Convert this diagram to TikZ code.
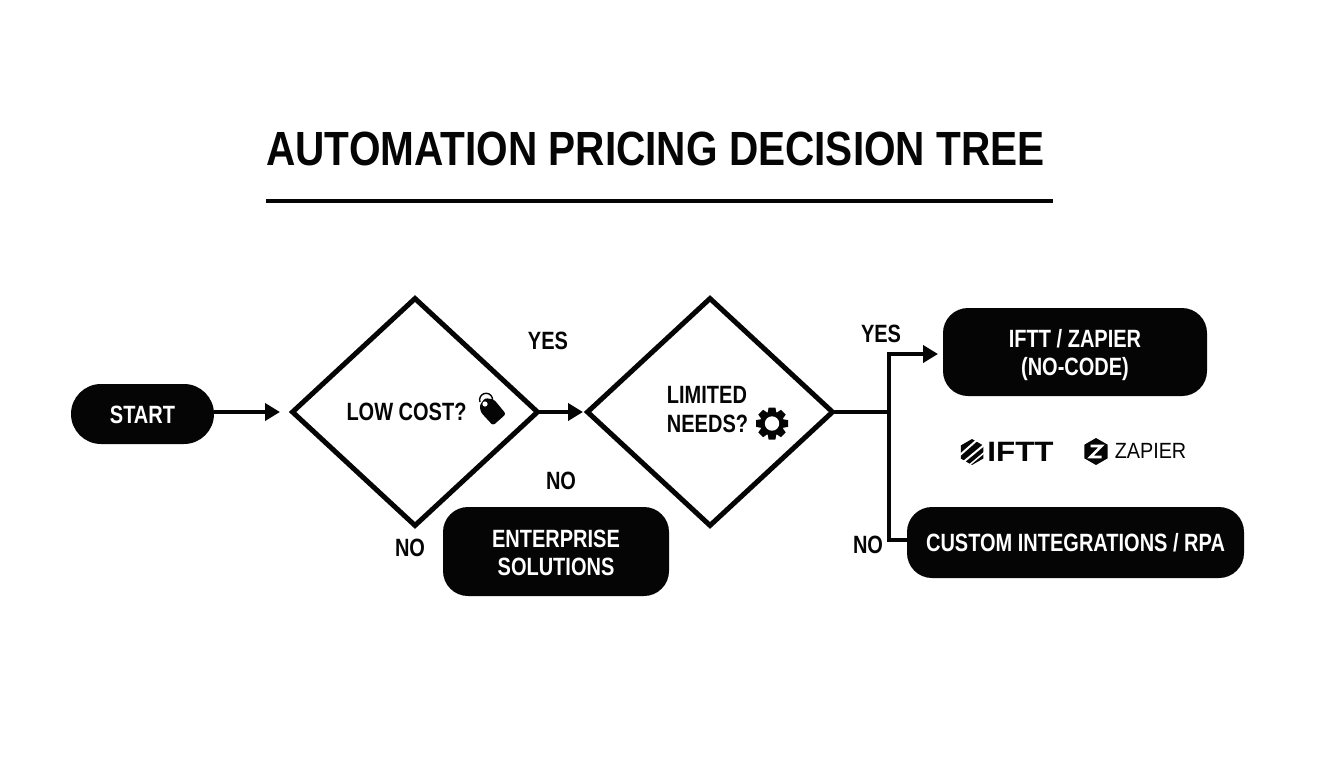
\documentclass[tikz,border=0pt]{standalone}
\usepackage{fontspec}
\usetikzlibrary{shapes.geometric,arrows.meta}
\setmainfont{Liberation Sans}
\newfontfamily\condf[FakeStretch=0.80]{Liberation Sans}
\newfontfamily\titlef[FakeStretch=0.845]{Liberation Sans}
\newfontfamily\iftf[FakeStretch=1.12]{Liberation Sans}
\newfontfamily\zapf[FakeStretch=0.9]{Liberation Sans}
\definecolor{ink}{HTML}{050505}
\tikzset{
  blackbox/.style={rectangle,fill=ink,text=white,rounded corners=25pt,inner sep=0pt,align=center,
    font=\condf\bfseries\fontsize{25}{28}\selectfont},
  decision/.style={diamond,draw=ink,line width=5pt,fill=white,inner sep=0pt,shape aspect=1.08,minimum width=247pt,minimum height=229pt,line join=miter},
  lab/.style={text=ink,inner sep=0pt,align=left,font=\condf\bfseries\fontsize{25}{29}\selectfont},
  conn/.style={draw=ink,line width=4pt},
  arrowed/.style={conn,-{Triangle[length=15pt,width=17pt]}},
}
\begin{document}
\begin{tikzpicture}[x=1pt,y=-1pt]
\useasboundingbox (0,0) rectangle (1344,768);
\fill[white] (0,0) rectangle (1344,768);

% title
\node[inner sep=0pt,text=ink,font=\titlef\bfseries\fontsize{48}{50}\selectfont] (title) at (655.5,149) {AUTOMATION PRICING DECISION TREE};
\coordinate (ruleL) at (266,201);
\coordinate (ruleR) at (1053,201);
\draw[conn] (ruleL) -- (ruleR);

% nodes
\node[blackbox,rounded corners=30pt,minimum width=143pt,minimum height=60pt] (start) at (142.5,414) {\rule{0pt}{20pt}START};
\node[decision] (d1) at (415,412) {};
\node[decision] (d2) at (710,412) {};
\node[blackbox,minimum width=226pt,minimum height=89pt] (ent) at (556,551.5) {\rule{0pt}{20pt}ENTERPRISE\\SOLUTIONS};
\node[blackbox,minimum width=264pt,minimum height=88pt] (ifft) at (1075,352) {\rule{0pt}{24pt}IFTT / ZAPIER\\(NO-CODE)};
\node[blackbox,minimum width=337pt,minimum height=71pt] (cust) at (1075.5,542.5) {CUSTOM INTEGRATIONS / RPA};

% diamond texts
\node[lab] (lowcost) at (406.5,412) {LOW COST?};
\node[lab] (limited) at (707.5,409.5) {LIMITED\\NEEDS?};

% edge labels
\node[lab] (yes1) at (548,341) {YES};
\node[lab] (no1) at (561,481) {NO};
\node[lab] (no2) at (410,548) {NO};
\node[lab] (yes2) at (881,334) {YES};
\node[lab] (no3) at (868,545) {NO};

% connectors
\coordinate (startTip) at (280,412);
\coordinate (d2Tip) at (583,412);
\coordinate (jn) at (889,412);
\coordinate (jnTop) at (889,354);
\coordinate (yesTip) at (938,354);
\coordinate (custIn) at (910,540);
\draw[arrowed] (start.east |- startTip) -- (startTip);
\draw[arrowed,shorten <=-4pt] (d1.east) -- (d2Tip);
\draw[conn,shorten <=-4pt] (d2.east) -- (jn);
\draw[arrowed] (custIn) -| (jnTop) -- (yesTip);

% tag icon
\begin{scope}
  \fill[ink,rounded corners=2.5pt] (479.5,405.5) -- (485,398) -- (494,399.5) -- (506,414) -- (493,425.5) -- (481,412.5) -- cycle;
  \fill[white] (485,404) circle (2.6pt);
  \draw[ink,line width=1.4pt] (480,402) arc[start angle=200,end angle=-10,radius=6.5pt];
\end{scope}

% gear icon
\begin{scope}[shift={(772,423.5)}]
  \fill[ink] (0,0) circle (12pt);
  \foreach \a in {0,45,...,315}{
    \fill[ink,rotate=\a] (-3.4,-16) -- (3.4,-16) -- (4.6,-9) -- (-4.6,-9) -- cycle;
  }
  \fill[white] (0,0) circle (7.2pt);
\end{scope}

% IFTT logo
\begin{scope}[shift={(972,452)}]
  \fill[ink] (90:13) -- (30:13) -- (-30:13) -- (-90:13) -- (-150:13) -- (150:13) -- cycle;
  \draw[white,line width=2pt] (-12,3) -- (5,-12);
  \draw[white,line width=2pt] (-8,9.5) -- (12,-7);
  \draw[white,line width=1.5pt] (-2,12.5) -- (13,0);
\end{scope}
\node[inner sep=0pt,text=ink,font=\iftf\bfseries\fontsize{28}{30}\selectfont] (ifttlogo) at (1020.5,451.5) {IFTT};

% Zapier logo
\begin{scope}[shift={(1096,451.5)}]
  \fill[ink] (90:13.5) -- (30:13.5) -- (-30:13.5) -- (-90:13.5) -- (-150:13.5) -- (150:13.5) -- cycle;
  \draw[white,line width=2.6pt,line join=miter] (-5.5,-5.5) -- (5.5,-5.5) -- (-5.5,5.5) -- (5.5,5.5);
\end{scope}
\node[inner sep=0pt,text=ink,font=\zapf\fontsize{22}{24}\selectfont] (zapierlogo) at (1150.5,451) {ZAPIER};
\end{tikzpicture}
\end{document}
